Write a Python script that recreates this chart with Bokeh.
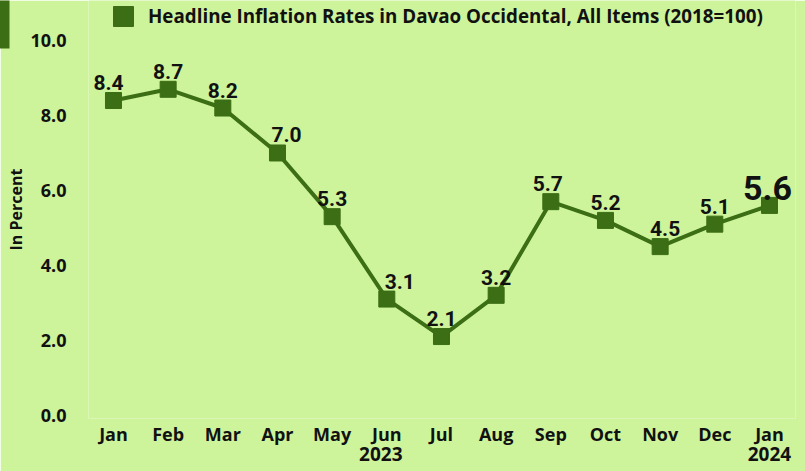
from bokeh.plotting import figure
from bokeh.models import (FixedTicker, NumeralTickFormatter, Legend, LegendItem,
                          ColumnDataSource, LinearAxis)
from bokeh.core.properties import value
from bokeh.embed import file_html
from bokeh.resources import INLINE

months = ["Jan", "Feb", "Mar", "Apr", "May", "Jun", "Jul", "Aug", "Sep",
          "Oct", "Nov", "Dec", "Jan"]
rates = [8.4, 8.7, 8.2, 7.0, 5.3, 3.1, 2.1, 3.2, 5.7, 5.2, 4.5, 5.1, 5.6]
rate_labels = ["8.4", "8.7", "8.2", "7.0", "5.3", "3.1", "2.1", "3.2", "5.7",
               "5.2", "4.5", "5.1", "5.6"]
y_ticks = [0, 2, 4, 6, 8, 10]
years = ["2023", "2024"]
title = "Headline Inflation Rates in Davao Occidental, All Items (2018=100)"

# --- styling / layout -------------------------------------------------------
BG = "#cdf49b"
GREEN = "#3b6e15"
TICK_FONT = "Open Sans"
NUM_FONT = "Roboto"
label_dx = [-5, 0, 0, 9, 0, 13, 0, 0, -3, 0, 5, 0, -2]   # pixel nudges
year_pos = [4.89, 12]

idx = list(range(len(months)))

p = figure(width=805, height=471, output_backend="svg", toolbar_location=None,
           x_range=(-0.457, 12.476), y_range=(-0.088, 11.07),
           min_border_left=88, min_border_right=10, min_border_top=0,
           min_border_bottom=53)
p.background_fill_color = BG
p.border_fill_color = BG
p.outline_line_color = None
p.xgrid.grid_line_color = None
p.ygrid.grid_line_color = None

src = ColumnDataSource(dict(x=idx, y=rates, t=rate_labels))
line = p.line("x", "y", source=src, line_color=GREEN, line_width=4)
pts = p.scatter("x", "y", source=src, marker="square", size=16,
                fill_color=GREEN, line_color=GREEN)

src_a = ColumnDataSource(dict(x=idx[:-1], y=rates[:-1], t=rate_labels[:-1],
                              dx=label_dx[:-1]))
src_b = ColumnDataSource(dict(x=idx[-1:], y=rates[-1:], t=rate_labels[-1:],
                              dx=label_dx[-1:]))
p.text("x", "y", text="t", source=src_a, text_align="center",
       text_baseline="alphabetic", x_offset="dx", y_offset=-18,
       text_font=value(NUM_FONT), text_font_style="bold",
       text_font_size="21px", text_color="#111111")
p.text("x", "y", text="t", source=src_b, text_align="center",
       text_baseline="alphabetic", x_offset="dx", y_offset=-17,
       text_font=value(NUM_FONT), text_font_style="bold",
       text_font_size="34px", text_color="#111111")

# axes
p.xaxis.ticker = FixedTicker(ticks=idx)
p.xaxis.major_label_overrides = {i: m for i, m in zip(idx, months)}
p.yaxis.ticker = FixedTicker(ticks=y_ticks)
p.yaxis.formatter = NumeralTickFormatter(format="0.0")

year_axis = LinearAxis(ticker=FixedTicker(ticks=year_pos),
                       major_label_overrides={x: y for x, y in zip(year_pos, years)})
p.add_layout(year_axis, "below")

for ax in (p.xaxis[0], year_axis, p.yaxis[0]):
    ax.axis_line_color = None
    ax.major_tick_line_color = None
    ax.minor_tick_line_color = None
    ax.major_label_text_font = TICK_FONT
    ax.major_label_text_font_style = "bold"
    ax.major_label_text_font_size = "18px"
    ax.major_label_text_color = "#111111"
p.xaxis[0].major_label_standoff = -3
year_axis.major_label_standoff = -8
year_axis.major_label_text_font_size = "19px"
p.yaxis.major_label_standoff = 16
p.yaxis.axis_label = "In Percent"
p.yaxis.axis_label_text_font = TICK_FONT
p.yaxis.axis_label_text_font_style = "bold"
p.yaxis.axis_label_text_font_size = "16px"
p.yaxis.axis_label_text_color = "#111111"
p.yaxis.axis_label_standoff = 0

# decorative dark bar at the top-left corner (an axis line with bounds)
bar_axis = LinearAxis(ticker=FixedTicker(ticks=[]), bounds=(9.79, 11.07),
                      axis_line_color=GREEN, axis_line_width=14,
                      axis_line_cap="butt", major_tick_line_color=None,
                      minor_tick_line_color=None,
                      major_label_text_font_size="0px")
p.add_layout(bar_axis, "left")

legend = Legend(items=[LegendItem(label=title, renderers=[pts])],
                location=(10, 377), orientation="horizontal",
                background_fill_alpha=0, border_line_color=None,
                glyph_width=50, glyph_height=50, padding=0, margin=0,
                label_text_font=TICK_FONT, label_text_font_style="bold",
                label_text_font_size="18.8px", label_text_color="#111111",
                label_standoff=0)
p.add_layout(legend, "center")

open("out.html", "w").write(file_html(p, INLINE))
